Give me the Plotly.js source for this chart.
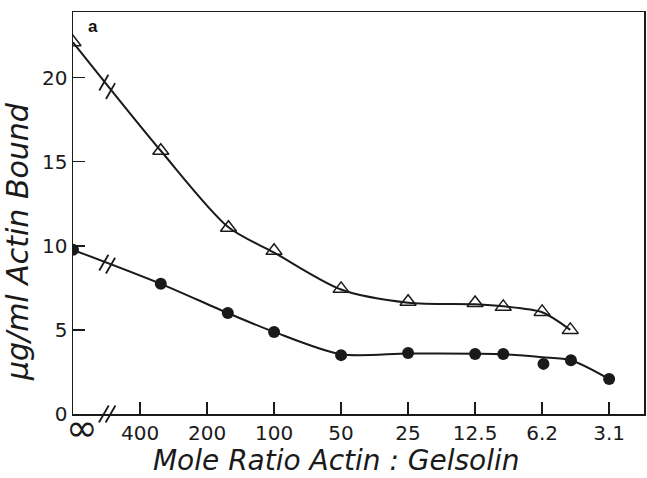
<!DOCTYPE html>
<html>
<head>
<meta charset="utf-8">
<script src="https://cdn.plot.ly/plotly-3.0.1.min.js"></script>
<style>html,body{margin:0;padding:0;background:#fff}#chart{width:647px;height:478px}</style>
</head>
<body>
<div id="chart"></div>
<script>
// x positions on the broken ratio axis: 0 = ∞, 1 = 400, 2 = 200, ... 8 = 3.1 (each step halves the ratio)
var tickPos   = [0, 1, 2, 3, 4, 5, 6, 7, 8];
var tickText  = ['', '400', '200', '100', '50', '25', '12.5', '6.2', '3.1'];
var infLabel  = '∞';

// open triangles
var triX = [0, 1.31, 2.32, 3.0, 4.0, 5.0, 6.0, 6.42, 7.0, 7.42];
var triY = [22.1, 15.65, 11.07, 9.7, 7.44, 6.67, 6.6, 6.37, 6.07, 5.0];

// filled circles
var dotX = [0, 1.31, 2.31, 3.0, 4.0, 5.0, 6.0, 6.42, 7.02, 7.43, 8.0];
var dotY = [9.76, 7.74, 6.0, 4.88, 3.5, 3.63, 3.57, 3.57, 2.98, 3.2, 2.08];

// smooth hand-drawn curves
var triCurveX = [0, 1.31, 2.32, 3.0, 4.0, 5.0, 6.0, 6.42, 7.0, 7.42];
var triCurveY = [22.1, 15.65, 11.1, 9.6, 7.4, 6.62, 6.52, 6.4, 6.05, 5.0];
var dotCurveX = [0, 1.31, 2.31, 3.0, 4.0, 5.0, 6.0, 6.42, 7.0, 7.43, 8.0];
var dotCurveY = [9.76, 7.74, 6.0, 4.88, 3.55, 3.6, 3.58, 3.55, 3.38, 3.2, 2.08];

// axis / curve break marks
var breakX = [0.46, 0.56];
var breakTriY = [19.7, 19.2];
var breakDotY = [9.0, 8.82];
var breakAxisY = [0, 0];

var F = 'DejaVu Sans, sans-serif';
var INK = '#1a1a1a';
var NB = '\u00a0';
var traces = [
  {x: triCurveX, y: triCurveY, mode: 'lines', line: {shape: 'spline', smoothing: 0.8, color: INK, width: 2}, hoverinfo: 'skip'},
  {x: dotCurveX, y: dotCurveY, mode: 'lines', line: {shape: 'spline', smoothing: 0.8, color: INK, width: 2}, hoverinfo: 'skip'},
  {x: triX, y: triY, mode: 'markers', marker: {symbol: 'triangle-up-open', size: 14, color: INK, line: {width: 1.5, color: INK}}},
  {x: dotX, y: dotY, mode: 'markers', marker: {symbol: 'circle', size: 12, color: INK}},
  {x: breakX, y: breakTriY, mode: 'markers', marker: {symbol: 'line-ns', size: 13, angle: 30, line: {width: 1.8, color: INK}}, hoverinfo: 'skip'},
  {x: breakX, y: breakDotY, mode: 'markers', marker: {symbol: 'line-ns', size: 13, angle: 30, line: {width: 1.8, color: INK}}, hoverinfo: 'skip'},
  {x: breakX, y: breakAxisY, mode: 'markers', cliponaxis: false, marker: {symbol: 'line-ns', size: 14, angle: 30, line: {width: 1.8, color: INK}}, hoverinfo: 'skip'}
];

var layout = {
  width: 647, height: 478,
  margin: {l: 73, r: 3, t: 12, b: 64},
  paper_bgcolor: '#fff', plot_bgcolor: '#fff',
  showlegend: false,
  font: {family: F, color: INK, size: 20},
  xaxis: {
    range: [0, 8.52], tickvals: tickPos, ticktext: tickText,
    ticks: 'inside', ticklen: 12, tickwidth: 1.5, tickcolor: INK,
    showline: true, mirror: true, linecolor: INK, linewidth: 1.5,
    showgrid: false, zeroline: false,
    tickfont: {family: F, size: 20, color: INK},
    title: {text: '<i>Mole Ratio Actin : Gelsolin' + NB.repeat(5) + '</i>', font: {family: F, size: 28, color: INK}, standoff: 4}
  },
  yaxis: {
    range: [0, 23.9], tickvals: [0, 5, 10, 15, 20],
    ticks: 'inside', ticklen: 12, tickwidth: 1.5, tickcolor: INK,
    showline: true, mirror: true, linecolor: INK, linewidth: 1.5,
    showgrid: false, zeroline: false,
    tickfont: {family: F, size: 20, color: INK},
    title: {text: '<i>μg/ml Actin Bound' + NB.repeat(6) + '</i>', font: {family: F, size: 30, color: INK}, standoff: 4}
  },
  annotations: [
    {text: '<b>a</b>', xref: 'paper', yref: 'paper', x: 0.022, y: 0.993, xanchor: 'left', yanchor: 'top', showarrow: false, font: {family: 'Liberation Sans, Arial, sans-serif', size: 17, color: '#111'}},
    {text: infLabel, xref: 'x', yref: 'paper', x: tickPos[0], y: 0, xanchor: 'left', yanchor: 'middle', xshift: -9, yshift: -14, showarrow: false, font: {family: F, size: 38, color: INK}}
  ]
};

Plotly.newPlot('chart', traces, layout, {displayModeBar: false, staticPlot: true});
</script>
</body>
</html>
